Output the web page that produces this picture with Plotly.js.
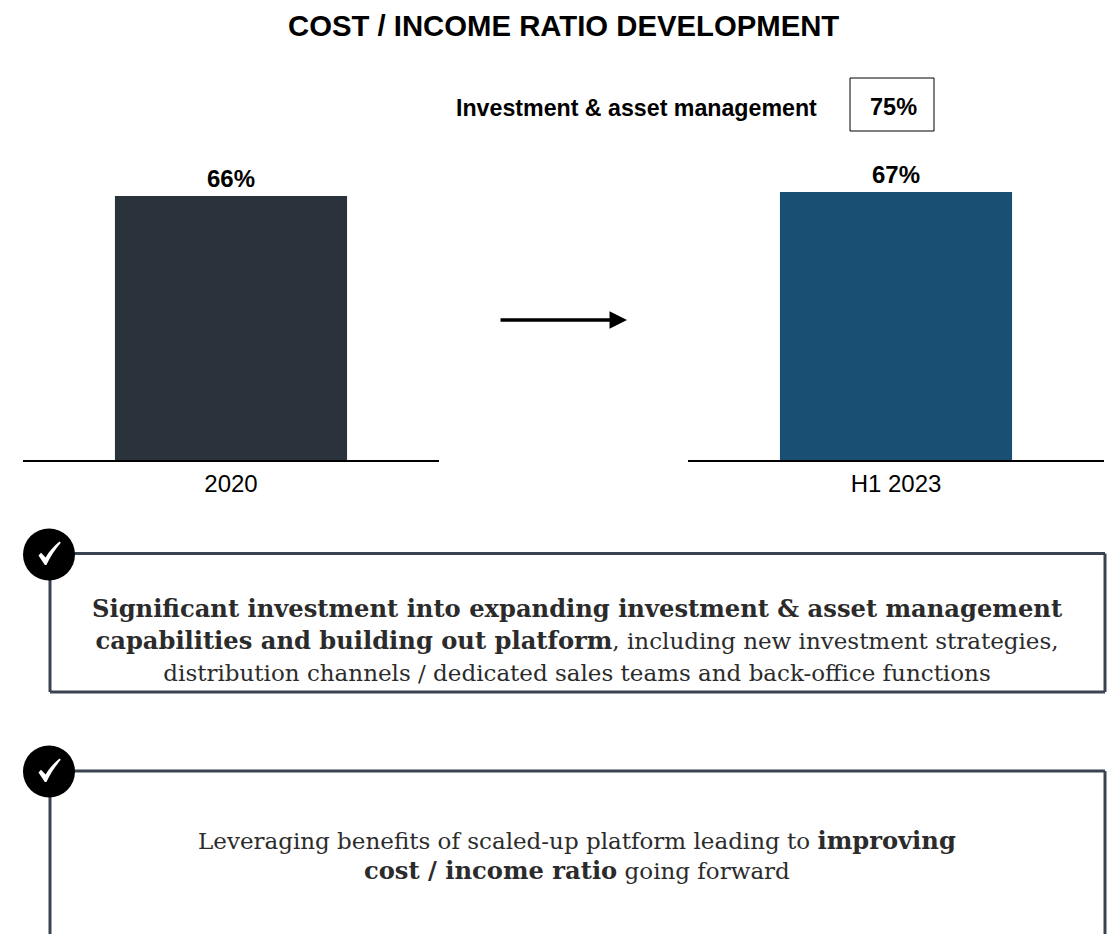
<!DOCTYPE html>
<html><head><meta charset="utf-8">
<script src="https://cdn.plot.ly/plotly-3.0.1.min.js"></script>
<style>html,body{margin:0;padding:0;background:#fff}#c{width:1109px;height:934px}</style></head>
<body><div id="c"></div>
<script>
const categoriesLeft = ['2020'];
const categoriesRight = ['H1 2023'];
const valuesLeft = [66];
const valuesRight = [67];
const labelsLeft = ['66%'];
const labelsRight = ['67%'];
const colorLeft = '#2a323c';
const colorRight = '#194f73';
const chartTitle = 'COST / INCOME RATIO DEVELOPMENT';
const calloutLabel = 'Investment & asset management';
const calloutValue = '75%';
const B = s => '<span style="font-size:24.2px;font-weight:bold">' + s + '</span>';
const R = s => '<span style="font-size:23px">' + s + '</span>';
const noteOne = B('Significant investment into expanding investment &amp; asset management') + '<br>' + B('capabilities and building out platform') + R(', including new investment strategies,') + '<br>' + R('distribution channels / dedicated sales teams and back-office functions');
const noteTwo = 'Leveraging benefits of scaled-up platform leading to ' + B('improving') + '<br>' + B('cost / income ratio') + ' going forward';

const W = 1109, H = 934;
const px = x => x / W, py = y => 1 - y / H;
const SANS = 'Liberation Sans, Arial, sans-serif';
const SERIF = 'DejaVu Serif, serif';
const INK = '#3a4450';

function bar(x, y, color, xa, ya) {
  return {type:'bar', x, y, marker:{color, line:{width:0}}, xaxis:xa, yaxis:ya, hoverinfo:'skip'};
}
// x is the category's index on its axis: a numeric-looking name such as '2020' would be read as a position
function barLabel(y, text, xa, ya) {
  return {xref:xa, yref:ya, x:0, y, text:'<b>'+text+'</b>', showarrow:false, yanchor:'bottom', xanchor:'center', yshift:2,
    font:{family:SANS, size:24, color:'#000'}};
}
function xAxis(domain, anchor){
  return {domain, anchor, type:'category', range:[-0.5,0.5], showline:true, linecolor:'#000', linewidth:2,
    showgrid:false, zeroline:false, ticks:'', ticklabelstandoff:1, tickfont:{family:SANS, size:24, color:'#000'}, fixedrange:true};
}
function yAxis(domain, anchor){
  return {domain, anchor, range:[0,80], visible:false, showgrid:false, zeroline:false, fixedrange:true};
}
function txt(x, y, text, size, family, color, extra){
  return Object.assign({xref:'paper', yref:'paper', x:px(x), y:py(y), text, showarrow:false,
    font:{family, size, color}, xanchor:'center', yanchor:'middle', align:'center'}, extra||{});
}
function line(x0,y0,x1,y1){
  return {type:'line', xref:'paper', yref:'paper', x0:px(x0), y0:py(y0), x1:px(x1), y1:py(y1),
    line:{color:INK, width:3}};
}
function circle(cx,cy,r){
  return {type:'circle', xref:'paper', yref:'paper', x0:px(cx-r), x1:px(cx+r), y0:py(cy+r), y1:py(cy-r),
    fillcolor:'#000', line:{color:'#000', width:0}};
}
function check(dy){
  const P = (x,y) => px(x)+','+py(y+dy);
  return {type:'path', xref:'paper', yref:'paper', fillcolor:'#fff', line:{color:'#fff', width:0},
    path:'M'+P(38.5,555.5)+' L'+P(41,552.8)+' L'+P(45.6,557.5)+' C'+P(49,551.5)+' '+P(54,546)+' '+P(59.5,541.5)+
      ' L'+P(60.8,542.8)+' C'+P(55,549.5)+' '+P(50.3,557)+' '+P(46.4,565)+' L'+P(44.8,565)+' Z'};
}
const yDom = [py(460), py(140)];
const layout = {
  width:W, height:H, margin:{l:0,r:0,t:0,b:0}, paper_bgcolor:'#fff', plot_bgcolor:'#fff',
  showlegend:false, bargap:0.442,
  xaxis:xAxis([px(23),px(439)],'y'), yaxis:yAxis(yDom,'x'),
  xaxis2:xAxis([px(688),px(1104)],'y2'), yaxis2:yAxis(yDom,'x2'),
  shapes:[
    {type:'rect', xref:'paper', yref:'paper', x0:px(850), x1:px(934), y0:py(131), y1:py(78), line:{color:'#000',width:1}, fillcolor:'rgba(0,0,0,0)'},
    line(50,553.5,1105,553.5), line(50,553.5,50,692), line(1105,553.5,1105,692), line(50,692,1105,692),
    line(50,771,1105,771), line(50,771,50,934), line(1105,771,1105,934),
    circle(49,554.5,26), circle(49,771.5,26), check(0), check(217)
  ],
  annotations:[
    barLabel(valuesLeft[0],labelsLeft[0],'x','y'),
    barLabel(valuesRight[0],labelsRight[0],'x2','y2'),
    txt(563,26,'<b>'+chartTitle+'</b>',29.3,SANS,'#000'),
    txt(636.5,108,'<b>'+calloutLabel.replace('&','&amp;')+'</b>',23.2,SANS,'#000'),
    txt(893,107,'<b>'+calloutValue+'</b>',23.5,SANS,'#000'),
    {xref:'paper', yref:'paper', axref:'paper', ayref:'paper', x:px(627), y:py(320), ax:px(499), ay:py(320),
      text:'', showarrow:true, arrowhead:2, arrowsize:1, arrowwidth:3.5, arrowcolor:'#000', standoff:0, startstandoff:0},
    txt(577,639.5,noteOne,24.6,SERIF,'#2b2b2b'),
    txt(577,855,noteTwo,23,SERIF,'#2b2b2b')
  ]
};
Plotly.newPlot('c',[
  bar(categoriesLeft,valuesLeft,colorLeft,'x','y'),
  bar(categoriesRight,valuesRight,colorRight,'x2','y2')
],layout,{displayModeBar:false,staticPlot:true});
</script></body></html>
